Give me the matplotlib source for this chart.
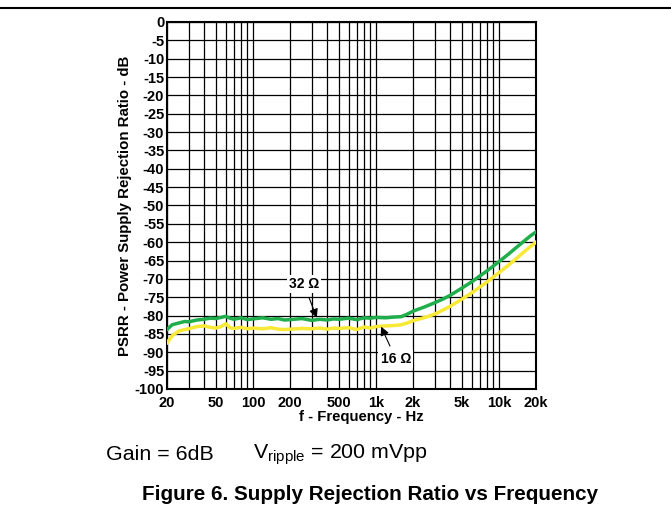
import matplotlib
matplotlib.use('Agg')
import matplotlib.pyplot as plt
from matplotlib.ticker import FixedLocator, NullFormatter

plt.rcParams['font.family'] = ['Liberation Sans', 'DejaVu Sans']

# Frequency points (Hz)
freq = [20, 22, 25, 28, 30, 35, 40, 45, 50, 55, 60, 65, 70, 80, 90, 100,
        120, 140, 160, 180, 200, 250, 300, 350, 400, 450, 500, 600, 700,
        800, 900, 1000, 1200, 1400, 1600, 1800, 2000, 2500, 3000, 3500,
        4000, 5000, 6000, 7000, 8000, 10000, 12000, 14000, 16000, 18000, 20000]

# PSRR, 32 ohm load (dB)
psrr_32 = [-83.8, -82.5, -82.0, -81.6, -81.7, -81.2, -81.0, -80.7, -80.8, -80.5,
           -80.2, -80.7, -81.0, -80.6, -81.1, -80.9, -80.6, -81.0, -80.8, -81.2,
           -81.1, -80.8, -81.3, -81.0, -81.2, -80.9, -81.0, -80.7, -81.1, -80.6,
           -80.7, -80.5, -80.6, -80.4, -80.3, -79.6, -78.8, -77.6, -76.5, -75.5,
           -74.5, -72.5, -70.8, -69.2, -67.8, -65.3, -63.2, -61.3, -59.7, -58.3, -57.2]

# PSRR, 16 ohm load (dB)
psrr_16 = [-87.4, -85.5, -84.2, -83.8, -83.6, -83.0, -82.8, -83.2, -83.4, -83.0,
           -82.2, -83.3, -83.5, -83.2, -83.6, -83.4, -83.6, -83.3, -83.7, -83.8,
           -83.7, -83.5, -83.6, -83.4, -83.7, -83.4, -83.5, -83.3, -83.8, -83.1,
           -83.4, -83.0, -82.8, -82.7, -82.5, -82.0, -81.4, -80.5, -79.6, -78.5,
           -77.5, -75.5, -73.8, -72.2, -70.8, -68.3, -66.2, -64.3, -62.6, -61.2, -60.0]

xticks = [20, 50, 100, 200, 500, 1000, 2000, 5000, 10000, 20000]
xticklabels = ['20', '50', '100', '200', '500', '1k', '2k', '5k', '10k', '20k']
grid_x = [20, 30, 40, 50, 60, 70, 80, 90, 100, 200, 300, 400, 500, 600, 700, 800, 900,
          1000, 2000, 3000, 4000, 5000, 6000, 7000, 8000, 9000, 10000, 20000]
yticks = list(range(0, -105, -5))

fig = plt.figure(figsize=(6.71, 5.14), dpi=100)
ax = fig.add_axes([0.2489, 0.2432, 0.5499, 0.714])

ax.set_xscale('log')
ax.set_xlim(20, 20000)
ax.set_ylim(-100, 0)

# Grid
for gx in grid_x:
    ax.axvline(gx, color='black', lw=0.9, zorder=1)
for gy in yticks:
    ax.axhline(gy, color='black', lw=0.9, zorder=1)

# Curves
ax.plot(freq, psrr_16, color='#f7e935', lw=2.5, zorder=3)
ax.plot(freq, psrr_32, color='#1fae4b', lw=2.5, zorder=4)

ax.xaxis.set_major_locator(FixedLocator(xticks))
ax.xaxis.set_minor_locator(FixedLocator([]))
ax.xaxis.set_minor_formatter(NullFormatter())
ax.set_xticks(xticks)
ax.set_xticklabels(xticklabels, fontsize=10.5, fontweight='bold')
ax.set_yticks(yticks)
ax.set_yticklabels([str(v) for v in yticks], fontsize=10.5, fontweight='bold')
ax.tick_params(axis='x', length=0, pad=5)
ax.tick_params(axis='y', length=0, pad=2)
for s in ax.spines.values():
    s.set_linewidth(1.5)

ax.set_xlabel('f - Frequency - Hz', fontsize=10.7, fontweight='bold')
ax.xaxis.set_label_coords(0.527, -0.056)
ax.set_ylabel('PSRR - Power Supply Rejection Ratio - dB', fontsize=10.8,
              fontweight='bold', labelpad=2)

# Labels with arrows
ax.annotate('32 Ω', xy=(330, -80.6), xytext=(260, -71.5),
            fontsize=10, fontweight='bold', ha='center', va='center',
            bbox=dict(boxstyle='square,pad=0.15', fc='white', ec='none'),
            arrowprops=dict(arrowstyle='-|>', color='black', lw=0.8,
                            mutation_scale=13, shrinkA=3, shrinkB=0), zorder=6)
ax.annotate('16 Ω', xy=(1100, -83.0), xytext=(1450, -91.8),
            fontsize=10, fontweight='bold', ha='center', va='center',
            bbox=dict(boxstyle='square,pad=0.15', fc='white', ec='none'),
            arrowprops=dict(arrowstyle='-|>', color='black', lw=0.8,
                            mutation_scale=13, shrinkA=3, shrinkB=0), zorder=6)

# Top rule
fig.add_artist(plt.Line2D([0, 1], [1 - 8 / 514, 1 - 8 / 514], color='black', lw=1.5))

fig.text(106 / 671, 1 - 455 / 514, 'Gain = 6dB', fontsize=15.4, va='center')
fig.text(253 / 671, 1 - 455 / 514, r'V$_{\mathregular{ripple}}$ = 200 mVpp',
         fontsize=15.4, va='center')
fig.text(370 / 671, 1 - 495 / 514, 'Figure 6. Supply Rejection Ratio vs Frequency',
         fontsize=14.9, fontweight='bold', ha='center', va='center')

fig.savefig('out.png', dpi=100)
